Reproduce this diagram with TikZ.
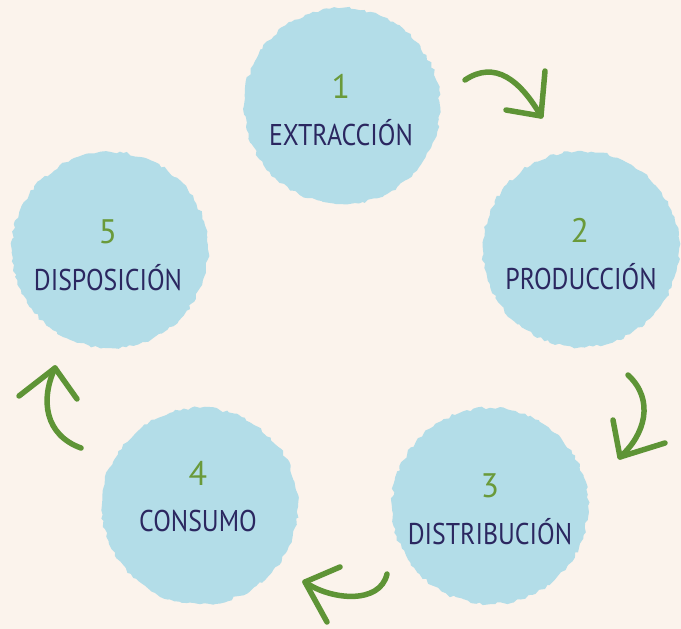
\documentclass[tikz,border=0pt]{standalone}
\usepackage{fontspec}
\setmainfont{PT Sans}
\usetikzlibrary{decorations.pathmorphing}
\definecolor{bg}{HTML}{FBF3EC}
\definecolor{blob}{HTML}{B3DDE8}
\definecolor{navy}{HTML}{2B2760}
\definecolor{leaf}{HTML}{6A9A3A}
\definecolor{arr}{HTML}{5E9436}
\tikzset{
  stage/.style={circle, fill=blob, minimum size=196pt, inner sep=0pt,
    decorate, decoration={random steps, segment length=4pt, amplitude=1.6pt}},
  num/.style={text=leaf, font=\fontsize{34}{36}\selectfont},
  lbl/.style={text=navy, font=\fontsize{30}{32}\selectfont, xscale=0.86},
  swoosh/.style={draw=arr, line width=5.5pt, line cap=round, line join=round}
}
\begin{document}
\begin{tikzpicture}[x=1pt,y=-1pt]
\fill[bg] (0,0) rectangle (681,629);
\useasboundingbox (0,0) rectangle (681,629);
% circles
\node[stage] (c1) at (342,106) {};
\node[stage] (c2) at (581,249) {};
\node[stage] (c3) at (490,506) {};
\node[stage] (c4) at (200,506) {};
\node[stage] (c5) at (110,250) {};
% numbers
\node[num] (n1) at (341,86) {1};
\node[num] (n2) at (580,230) {2};
\node[num] (n3) at (490,486) {3};
\node[num] (n4) at (198,473) {4};
\node[num] (n5) at (108,232) {5};
% labels
\node[lbl] (l1) at (341,133) {EXTRACCIÓN};
\node[lbl] (l2) at (581,277) {PRODUCCIÓN};
\node[lbl] (l3) at (490,532) {DISTRIBUCIÓN};
\node[lbl] (l4) at (198,521) {CONSUMO};
\node[lbl] (l5) at (108,278) {DISPOSICIÓN};
% arrow 1 (1 -> 2)
\coordinate (a1s) at (465,80);
\coordinate (a1t) at (541,116);
\coordinate (a1u) at (545,71);
\coordinate (a1l) at (506,110);
\draw[swoosh] (a1s) .. controls (495,60) and (520,80) .. (a1t);
\draw[swoosh] (a1u) -- (a1t) -- (a1l);
% arrow 2 (2 -> 3)
\coordinate (a2s) at (628,375);
\coordinate (a2t) at (620,457);
\coordinate (a2u) at (613,420);
\coordinate (a2r) at (665,443);
\draw[swoosh] (a2s) .. controls (655,400) and (645,435) .. (a2t);
\draw[swoosh] (a2u) -- (a2t) -- (a2r);
% arrow 3 (3 -> 4)
\coordinate (a3s) at (387,574);
\coordinate (a3t) at (305,582);
\coordinate (a3r) at (340,567);
\coordinate (a3d) at (327,622);
\draw[swoosh] (a3s) .. controls (380,605) and (330,600) .. (a3t);
\draw[swoosh] (a3r) -- (a3t) -- (a3d);
% arrow 4 (4 -> 5)
\coordinate (a4s) at (81,448);
\coordinate (a4t) at (55,368);
\coordinate (a4l) at (19,396);
\coordinate (a4r) at (77,399);
\draw[swoosh] (a4s) .. controls (45,435) and (40,400) .. (a4t);
\draw[swoosh] (a4l) -- (a4t) -- (a4r);
\end{tikzpicture}
\end{document}
